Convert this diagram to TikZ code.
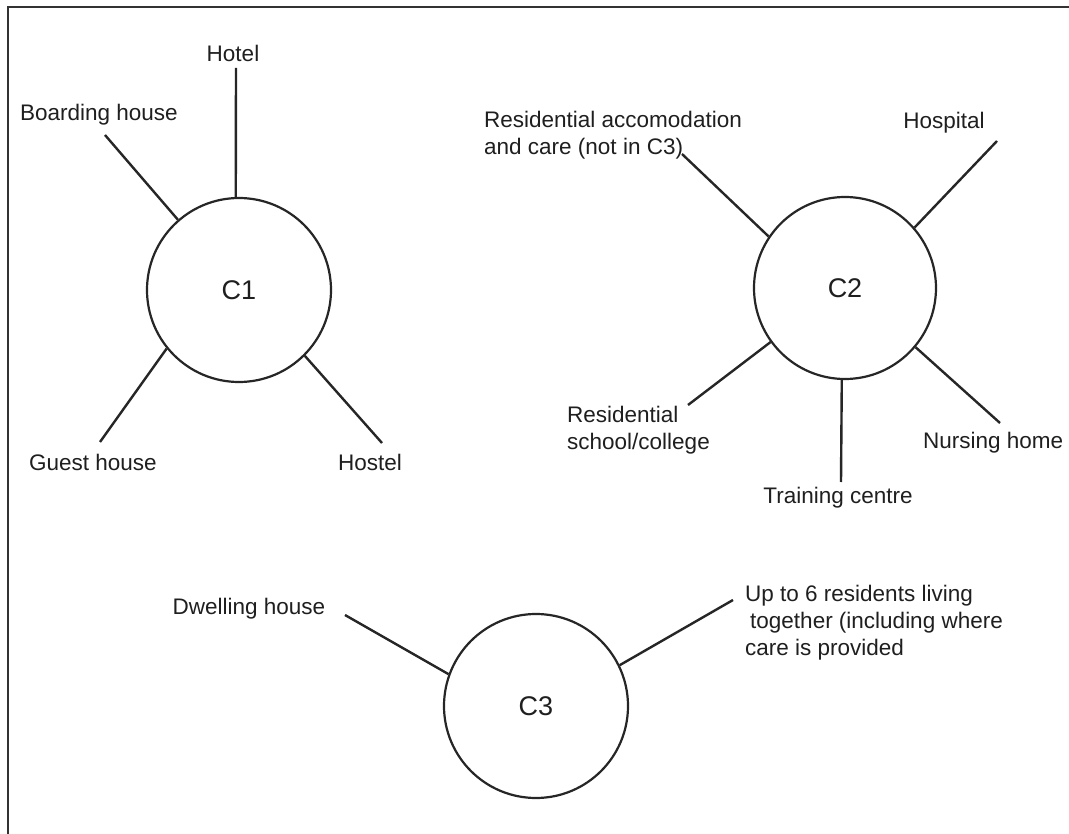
\documentclass[tikz,border=0pt]{standalone}
\usepackage{fontspec}
\setmainfont{Liberation Sans}
\begin{document}
\begin{tikzpicture}[x=1pt,y=-1pt,
  every node/.style={font=\fontsize{22.5}{27}\selectfont, text=black!88, inner sep=0pt},
  hub/.style={draw=black!85, line width=2.2pt, circle, minimum size=184pt, font=\fontsize{27}{30}\selectfont},
  spoke/.style={draw=black!85, line width=2.4pt},
  frameline/.style={draw=black!80, line width=2.4pt},
  lbl/.style={align=left}]
\useasboundingbox (0,0) rectangle (1069,834);
\fill[white] (0,0) rectangle (1069,834);
% frame
\coordinate (fbl) at (8,834);
\coordinate (ftl) at (8,7);
\coordinate (ftr) at (1069,7);
\draw[frameline] (fbl) -- (ftl) -- (ftr);

% C1
\node[hub] (c1) at (239,290) {C1};
\node (hotel) at (233,53) {Hotel};
\node (boarding) at (99,115) {Boarding house};
\node (guest) at (93,462) {Guest house};
\node (hostel) at (370,462) {Hostel};
\coordinate (hotelE) at (236,68);
\coordinate (boardingE) at (105,135);
\coordinate (guestE) at (100,442);
\coordinate (hostelE) at (382,443);
\draw[spoke] (hotelE) -- (c1.92);
\draw[spoke] (boardingE) -- (c1.131);
\draw[spoke] (guestE) -- (c1.219);
\draw[spoke] (hostelE) -- (c1.315);

% C2
\node[hub, minimum size=182pt] (c2) at (845,288) {C2};
\node[lbl, anchor=west] (resacc) at (484,135) {Residential accomodation\\and care (not in C3)};
\node (hospital) at (944,123) {Hospital};
\node[lbl, anchor=west] (school) at (567,430) {Residential\\school/college};
\node (training) at (838,498) {Training centre};
\node[anchor=west] (nursing) at (923,443) {Nursing home};
\coordinate (resaccE) at (682,154);
\coordinate (hospitalE) at (997,141);
\coordinate (schoolE) at (688,405);
\coordinate (trainingE) at (841,482);
\coordinate (nursingE) at (1000,423);
\draw[spoke] (resaccE) -- (c2.146);
\draw[spoke] (hospitalE) -- (c2.41);
\draw[spoke] (schoolE) -- (c2.216);
\draw[spoke] (trainingE) -- (c2.268);
\draw[spoke] (nursingE) -- (c2.320);

% C3
\node[hub] (c3) at (536,706) {C3};
\node (dwelling) at (249,609) {Dwelling house};
\node[lbl, anchor=west] (upto) at (745,623) {Up to 6 residents living\\\hspace{5pt}together (including where\\care is provided};
\coordinate (dwellingE) at (345,615);
\coordinate (uptoE) at (733,600);
\draw[spoke] (dwellingE) -- (c3.160);
\draw[spoke] (uptoE) -- (c3.26);
\end{tikzpicture}
\end{document}
